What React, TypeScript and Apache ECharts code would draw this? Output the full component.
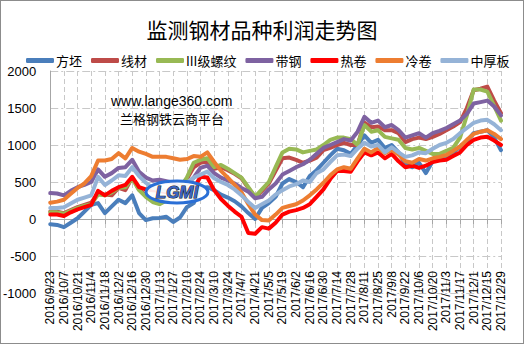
import React, { useEffect, useRef } from "react";
import * as echarts from "echarts";

const dates = [
  "2016/9/23","2016/9/30","2016/10/7","2016/10/14","2016/10/21","2016/10/28","2016/11/4","2016/11/11","2016/11/18","2016/11/25",
  "2016/12/2","2016/12/9","2016/12/16","2016/12/23","2016/12/30","2017/1/6","2017/1/13","2017/1/20","2017/1/27","2017/2/3",
  "2017/2/10","2017/2/17","2017/2/24","2017/3/3","2017/3/10","2017/3/17","2017/3/24","2017/3/31","2017/4/7","2017/4/14",
  "2017/4/21","2017/4/28","2017/5/5","2017/5/12","2017/5/19","2017/5/26","2017/6/2","2017/6/9","2017/6/16","2017/6/23",
  "2017/6/30","2017/7/7","2017/7/14","2017/7/21","2017/7/28","2017/8/4","2017/8/11","2017/8/18","2017/8/25","2017/9/1",
  "2017/9/8","2017/9/15","2017/9/22","2017/9/29","2017/10/6","2017/10/13","2017/10/20","2017/10/27","2017/11/3","2017/11/10",
  "2017/11/17","2017/11/24","2017/12/1","2017/12/8","2017/12/15","2017/12/22","2017/12/29",
];

const billet = [-70,-80,-110,-50,10,100,190,215,80,170,260,215,320,80,-15,10,15,30,-40,20,160,215,420,430,390,330,290,240,170,80,0,150,215,300,480,540,500,430,580,660,760,860,950,930,880,1000,1130,1030,1070,960,1000,900,740,700,760,620,780,830,840,900,975,1050,1160,1180,1200,1100,930];
const wireRod = [100,100,80,120,160,190,220,350,330,320,420,390,560,400,320,260,240,280,340,420,540,700,760,780,680,700,660,610,550,420,290,380,480,650,820,830,800,760,790,830,930,960,1000,1030,1000,1000,1300,1240,1250,1200,1200,1160,1040,1080,1100,1080,1110,1150,1200,1250,1310,1500,1740,1760,1790,1600,1430];
const rebar = [90,90,70,110,150,180,200,330,320,360,420,430,550,390,300,230,200,250,330,420,560,760,800,820,700,730,680,620,560,430,300,400,500,700,900,950,940,900,920,940,1000,1070,1100,1100,1080,1000,1270,1180,1200,1110,1090,1070,960,940,960,920,880,880,920,960,1100,1400,1750,1750,1720,1530,1330];
const strip = [350,345,320,380,430,460,500,670,570,620,690,700,800,640,560,520,530,510,490,430,470,560,690,720,620,560,520,480,420,370,280,300,400,480,600,650,700,740,800,880,960,1000,1040,1080,1060,1180,1380,1300,1330,1240,1270,1200,1100,1130,1160,1100,1160,1190,1230,1280,1330,1420,1560,1580,1600,1520,1400];
const hotCoil = [60,60,40,90,130,160,190,380,320,380,430,460,570,430,400,390,380,360,350,360,400,410,570,560,390,270,180,100,30,-190,-200,-110,-130,-50,60,100,120,150,200,300,400,540,650,650,640,780,900,860,900,820,880,780,700,720,690,720,770,790,800,850,900,1000,1070,1100,1110,1060,1000];
const coldCoil = [220,235,260,340,420,480,580,790,790,810,890,820,960,910,880,840,840,840,820,800,810,850,840,900,770,650,560,460,360,200,60,-15,-20,60,150,175,200,250,320,400,490,590,670,700,680,820,950,900,960,890,930,870,780,760,810,790,820,840,865,920,980,1070,1150,1180,1200,1150,1080];
const plate = [150,150,160,210,260,290,320,570,460,520,590,580,700,580,490,420,400,380,370,420,490,560,600,640,550,500,460,400,320,230,150,200,250,330,390,440,470,520,500,620,670,770,860,870,850,950,1030,980,1000,900,970,900,840,860,900,890,950,1000,1030,1080,1160,1230,1300,1330,1340,1280,1200];

const seriesNames = ["方坯", "线材", "III级螺纹", "带钢", "热卷", "冷卷", "中厚板"];
const seriesData = [billet, wireRod, rebar, strip, hotCoil, coldCoil, plate];
const colors = ["#4A7EBB", "#BE4B48", "#98B954", "#7E62A1", "#FF0000", "#ED7D31", "#95B3D7"];

const FONT = "'Liberation Sans', 'Noto Sans CJK SC', sans-serif";

export default function App() {
  const ref = useRef<HTMLDivElement>(null);
  useEffect(() => {
    if (!ref.current) return;
    const chart = echarts.init(ref.current, undefined, { renderer: "svg" });
    chart.setOption({
      animation: false,
      backgroundColor: "#ffffff",
      textStyle: { fontFamily: FONT },
      title: {
        text: "监测钢材品种利润走势图",
        left: "center",
        top: 13,
        textStyle: { fontSize: 21, fontWeight: "normal", color: "#000", fontFamily: "'Noto Sans CJK SC', sans-serif" },
      },
      legend: {
        top: 49,
        left: 21,
        icon: "roundRect",
        itemWidth: 28,
        itemHeight: 5,
        itemGap: 9,
        textStyle: { fontSize: 13, color: "#000", fontFamily: "'Noto Sans CJK SC', sans-serif", padding: [0, 0, 0, -3] },
        data: seriesNames,
      },
      grid: { left: 49, right: 23, top: 71, bottom: 51, containLabel: false },
      xAxis: {
        type: "category",
        data: dates,
        boundaryGap: false,
        offset: -30,
        axisLine: { lineStyle: { color: "#a6a6a6" } },
        axisTick: { interval: 1, length: 5, lineStyle: { color: "#a6a6a6" } },
        axisLabel: { interval: 1, rotate: 90, fontSize: 12, color: "#000", margin: 8, fontFamily: FONT },
        splitLine: { show: true, interval: 1, lineStyle: { type: [5, 3], color: "#c8c8c8" } },
      },
      yAxis: {
        type: "value",
        min: -1000,
        max: 2000,
        interval: 500,
        axisLine: { show: true, lineStyle: { color: "#a6a6a6" } },
        axisTick: { show: false },
        axisLabel: { fontSize: 13, color: "#000", margin: 14, fontFamily: FONT, formatter: (v: number) => String(v) },
        splitLine: { lineStyle: { type: [8, 3, 2, 3], color: "#c8c8c8" } },
      },
      series: seriesNames.map((name, i) => ({
        name,
        type: "line",
        data: seriesData[i],
        showSymbol: false,
        symbol: "none",
        color: colors[i],
        lineStyle: { width: 4, color: colors[i], join: "round", cap: "round" },
      })),
      graphic: [
        {
          type: "text",
          left: 111,
          top: 94,
          style: { text: "www.lange360.com", font: "14px 'Liberation Sans', sans-serif", fill: "#000" },
          z: 100,
        },
        {
          type: "text",
          left: 120,
          top: 112,
          style: { text: "兰格钢铁云商平台", font: "13px 'Noto Sans CJK SC', sans-serif", fill: "#000" },
          z: 100,
        },
        {
          type: "ellipse",
          shape: { cx: 177, cy: 192, rx: 31, ry: 11 },
          style: { fill: "rgba(255,255,255,0.9)", stroke: "#2a6fd6", lineWidth: 3 },
          z: 100,
        },
        {
          type: "text",
          x: 177,
          y: 192,
          style: {
            text: "LGMI",
            font: "italic bold 17px 'Liberation Sans', sans-serif",
            fill: "#3a64c0",
            stroke: "#111",
            lineWidth: 1,
            align: "center",
            verticalAlign: "middle",
          },
          z: 101,
        },
      ],
    });
    return () => chart.dispose();
  }, []);
  return (
    <div style={{ position: "fixed", left: 0, top: 0, width: 524, height: 344, background: "#fff" }}>
      <div ref={ref} style={{ position: "absolute", left: 0, top: 0, width: 524, height: 344 }} />
      <div
        style={{
          position: "absolute",
          left: 0,
          top: 0,
          width: 524,
          height: 344,
          boxSizing: "border-box",
          border: "1px solid #8c8c8c",
          pointerEvents: "none",
        }}
      />
    </div>
  );
}
